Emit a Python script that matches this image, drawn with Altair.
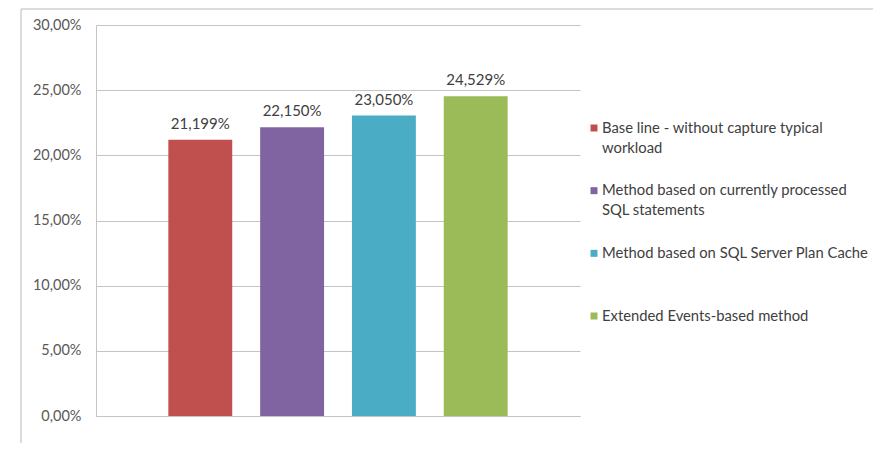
import altair as alt
import pandas as pd

# ---- data ----
methods = [
    "Base line - without capture typical workload",
    "Method based on currently processed SQL statements",
    "Method based on SQL Server Plan Cache",
    "Extended Events-based method",
]
legend_labels = [
    "Base line - without capture typical\nworkload",
    "Method based on currently processed\nSQL statements",
    "Method based on SQL Server Plan Cache",
    "Extended Events-based method",
]
values = [0.21199, 0.22150, 0.23050, 0.24529]
colors = ["#C0504D", "#8064A2", "#4BACC6", "#9BBB59"]
y_ticks = [0.0, 0.05, 0.10, 0.15, 0.20, 0.25, 0.30]

df = pd.DataFrame({"method": methods, "value": values})
leg = pd.DataFrame({"method": methods, "label": legend_labels})
one = pd.DataFrame({"k": [0]})

W, H = 484, 391
grid = "#C4C4C4"
txt = "#404040"

color = alt.Color("method:N", scale=alt.Scale(domain=methods, range=colors), legend=None)
xenc = alt.X(
    "method:N",
    sort=methods,
    scale=alt.Scale(paddingInner=0.304, paddingOuter=0.788),
    axis=alt.Axis(labels=False, ticks=False, title=None, domainColor=grid, grid=False),
)
yenc = alt.Y(
    "value:Q",
    scale=alt.Scale(domain=[0, 0.30], nice=False),
    axis=alt.Axis(
        orient="left",
        values=y_ticks,
        labelExpr="replace(format(datum.value, '.2%'), '.', ',')",
        ticks=False,
        labelPadding=15,
        title=None,
        domainColor=grid,
        gridColor=grid,
        grid=True,
        labelFontSize=14.5,
        labelColor="#595959",
    ),
)

bars = alt.Chart(df).mark_bar().encode(x=xenc, y=yenc, color=color)

labels = alt.Chart(df).transform_calculate(
    txt="replace(format(datum.value, '.3%'), '.', ',')"
).mark_text(baseline="alphabetic", dy=-11, fontSize=15, color=txt).encode(
    x=xenc, y=yenc, text="txt:N"
)

ly = alt.Y(
    "method:N",
    sort=methods,
    scale=alt.Scale(type="point", range=[103, 291], padding=0),
    axis=None,
)
squares = alt.Chart(leg).mark_square(size=49, opacity=1).encode(
    x=alt.value(498), y=ly, color=color
)
leg_text = alt.Chart(leg).mark_text(
    align="left", baseline="top", dy=-7.5, fontSize=14.8, lineHeight=20, lineBreak="\n", color=txt
).encode(x=alt.value(506), y=ly, text="label:N")

border_top = alt.Chart(one).mark_rule(color="#D0D0D0", strokeWidth=1.5).encode(
    x=alt.value(-75), x2=alt.value(777), y=alt.value(-16)
)
border_left = alt.Chart(one).mark_rule(color="#D0D0D0", strokeWidth=1.5).encode(
    x=alt.value(-75), y=alt.value(-16), y2=alt.value(422)
)

chart = alt.layer(
    alt.layer(bars, labels),
    alt.layer(squares, leg_text),
    border_top,
    border_left,
).resolve_scale(y="independent", x="independent").properties(
    width=W,
    height=H,
    autosize=alt.AutoSizeParams(type="none"),
    padding={"left": 88, "top": 17, "right": 300, "bottom": 27},
).configure(font="Lato").configure_view(strokeWidth=0, stroke="transparent").configure_axisRight(
    domain=False, grid=False, labels=False, ticks=False
)

chart.save("out.html", embed_options={"renderer": "svg", "actions": False})
